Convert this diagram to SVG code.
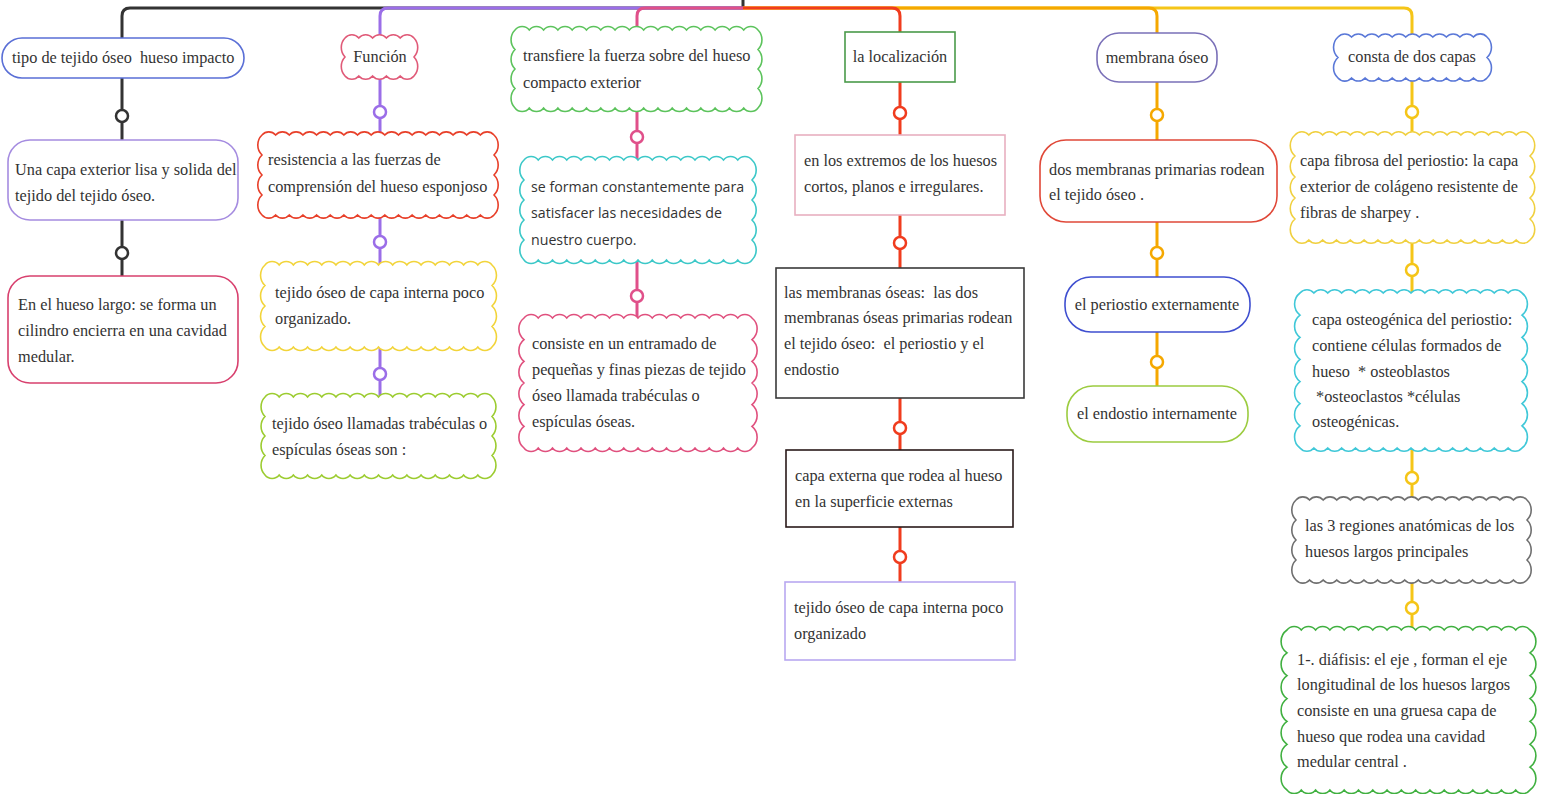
<svg xmlns="http://www.w3.org/2000/svg" width="1543" height="794" viewBox="0 0 1543 794">
<style>
text{font-family:"Liberation Serif","Times New Roman",serif;font-size:16.3px;fill:#333;white-space:pre}
.sans{font-family:"Open Sans","Liberation Sans",sans-serif;font-size:14.2px}
.mid{text-anchor:middle}
.box{fill:#fff;stroke-width:1.6}
.con{fill:none;stroke-width:3}
.ring{fill:#fff;stroke-width:2.5}
</style>
<rect width="1543" height="794" fill="#fff"/>
<g id="connectors">
<path class="con" stroke="#333" d="M743 0V8"/>
<path class="con" stroke="#333" d="M743 8H130Q122 8 122 16V38"/>
<path class="con" stroke="#9b6ee8" d="M743 8H388Q380 8 380 16V38"/>
<path class="con" stroke="#e0508a" d="M743 8H645Q637 8 637 16V30"/>
<path class="con" stroke="#f5c518" d="M743 8H1404Q1412 8 1412 16V37"/>
<path class="con" stroke="#f5a800" d="M743 8H1149Q1157 8 1157 16V33"/>
<path class="con" stroke="#f03c1e" d="M743 8H892Q900 8 900 16V32"/>
<g stroke="#333"><path class="con" d="M122 78V140M122 220V276"/><circle class="ring" cx="122" cy="116" r="6"/><circle class="ring" cx="122" cy="253" r="6"/></g>
<g stroke="#9b6ee8"><path class="con" d="M380 76V135M380 215V265M380 347V397"/><circle class="ring" cx="380" cy="112" r="6"/><circle class="ring" cx="380" cy="242" r="6"/><circle class="ring" cx="380" cy="374" r="6"/></g>
<g stroke="#e0508a"><path class="con" d="M637 108V160M637 260V318"/><circle class="ring" cx="637" cy="137" r="6"/><circle class="ring" cx="637" cy="296" r="6"/></g>
<g stroke="#f03c1e"><path class="con" d="M900 82V135M900 215V268M900 398V450M900 527V582"/><circle class="ring" cx="900" cy="113" r="6"/><circle class="ring" cx="900" cy="243" r="6"/><circle class="ring" cx="900" cy="428" r="6"/><circle class="ring" cx="900" cy="557" r="6"/></g>
<g stroke="#f5a800"><path class="con" d="M1157 82V140M1157 222V277M1157 332V386"/><circle class="ring" cx="1157" cy="115" r="6"/><circle class="ring" cx="1157" cy="253" r="6"/><circle class="ring" cx="1157" cy="362" r="6"/></g>
<g stroke="#f5c518"><path class="con" d="M1412 78V135M1412 240V293M1412 448V500M1412 580V630"/><circle class="ring" cx="1412" cy="112" r="6"/><circle class="ring" cx="1412" cy="270" r="6"/><circle class="ring" cx="1412" cy="478" r="6"/><circle class="ring" cx="1412" cy="608" r="6"/></g>
</g>

<g id="n1"><rect class="box" stroke="#5a6fd6" x="2" y="38" width="242" height="40" rx="20"/><text x="12" y="63">tipo de tejido óseo  hueso impacto</text></g>
<g id="n2"><rect class="box" stroke="#a58ce0" x="8" y="140" width="230" height="80" rx="22"/><text x="15" y="175">Una capa exterior lisa y solida del</text><text x="15" y="201">tejido del tejido óseo.</text></g>
<g id="n3"><rect class="box" stroke="#d8406e" x="8" y="276" width="230" height="107" rx="22"/><text x="18" y="310">En el hueso largo: se forma un</text><text x="18" y="336">cilindro encierra en una cavidad</text><text x="18" y="362">medular.</text></g>

<g id="n4"><path class="box" stroke="#e05a78" d="M345 38a9 9 0 0 1 13.8 0a9 9 0 0 1 13.8 0a9 9 0 0 1 13.8 0a9 9 0 0 1 13.8 0a9 9 0 0 1 13.8 0a14 14 0 0 1 0 19a14 14 0 0 1 0 19a9 9 0 0 1 -13.8 0a9 9 0 0 1 -13.8 0a9 9 0 0 1 -13.8 0a9 9 0 0 1 -13.8 0a9 9 0 0 1 -13.8 0a14 14 0 0 1 0 -19a14 14 0 0 1 0 -19z"/><text class="mid" x="380" y="62">Función</text></g>
<g id="n5"><path class="box" stroke="#e8402a" d="M262 135a9 9 0 0 1 13.647 0a9 9 0 0 1 13.647 0a9 9 0 0 1 13.647 0a9 9 0 0 1 13.647 0a9 9 0 0 1 13.647 0a9 9 0 0 1 13.647 0a9 9 0 0 1 13.647 0a9 9 0 0 1 13.647 0a9 9 0 0 1 13.647 0a9 9 0 0 1 13.647 0a9 9 0 0 1 13.647 0a9 9 0 0 1 13.647 0a9 9 0 0 1 13.647 0a9 9 0 0 1 13.647 0a9 9 0 0 1 13.647 0a9 9 0 0 1 13.647 0a9 9 0 0 1 13.647 0a14 14 0 0 1 0 20a14 14 0 0 1 0 20a14 14 0 0 1 0 20a14 14 0 0 1 0 20a9 9 0 0 1 -13.647 0a9 9 0 0 1 -13.647 0a9 9 0 0 1 -13.647 0a9 9 0 0 1 -13.647 0a9 9 0 0 1 -13.647 0a9 9 0 0 1 -13.647 0a9 9 0 0 1 -13.647 0a9 9 0 0 1 -13.647 0a9 9 0 0 1 -13.647 0a9 9 0 0 1 -13.647 0a9 9 0 0 1 -13.647 0a9 9 0 0 1 -13.647 0a9 9 0 0 1 -13.647 0a9 9 0 0 1 -13.647 0a9 9 0 0 1 -13.647 0a9 9 0 0 1 -13.647 0a9 9 0 0 1 -13.647 0a14 14 0 0 1 0 -20a14 14 0 0 1 0 -20a14 14 0 0 1 0 -20a14 14 0 0 1 0 -20z"/><text x="268" y="165">resistencia a las fuerzas de</text><text x="268" y="192">comprensión del hueso esponjoso</text></g>
<g id="n6"><path class="box" stroke="#f2d43a" d="M265 265a9 9 0 0 1 14.1875 0a9 9 0 0 1 14.1875 0a9 9 0 0 1 14.1875 0a9 9 0 0 1 14.1875 0a9 9 0 0 1 14.1875 0a9 9 0 0 1 14.1875 0a9 9 0 0 1 14.1875 0a9 9 0 0 1 14.1875 0a9 9 0 0 1 14.1875 0a9 9 0 0 1 14.1875 0a9 9 0 0 1 14.1875 0a9 9 0 0 1 14.1875 0a9 9 0 0 1 14.1875 0a9 9 0 0 1 14.1875 0a9 9 0 0 1 14.1875 0a9 9 0 0 1 14.1875 0a14 14 0 0 1 0 20.5a14 14 0 0 1 0 20.5a14 14 0 0 1 0 20.5a14 14 0 0 1 0 20.5a9 9 0 0 1 -14.1875 0a9 9 0 0 1 -14.1875 0a9 9 0 0 1 -14.1875 0a9 9 0 0 1 -14.1875 0a9 9 0 0 1 -14.1875 0a9 9 0 0 1 -14.1875 0a9 9 0 0 1 -14.1875 0a9 9 0 0 1 -14.1875 0a9 9 0 0 1 -14.1875 0a9 9 0 0 1 -14.1875 0a9 9 0 0 1 -14.1875 0a9 9 0 0 1 -14.1875 0a9 9 0 0 1 -14.1875 0a9 9 0 0 1 -14.1875 0a9 9 0 0 1 -14.1875 0a9 9 0 0 1 -14.1875 0a14 14 0 0 1 0 -20.5a14 14 0 0 1 0 -20.5a14 14 0 0 1 0 -20.5a14 14 0 0 1 0 -20.5z"/><text x="275" y="298">tejido óseo de capa interna poco</text><text x="275" y="324">organizado.</text></g>
<g id="n7"><path class="box" stroke="#9ccc30" d="M265 397a9 9 0 0 1 14.1875 0a9 9 0 0 1 14.1875 0a9 9 0 0 1 14.1875 0a9 9 0 0 1 14.1875 0a9 9 0 0 1 14.1875 0a9 9 0 0 1 14.1875 0a9 9 0 0 1 14.1875 0a9 9 0 0 1 14.1875 0a9 9 0 0 1 14.1875 0a9 9 0 0 1 14.1875 0a9 9 0 0 1 14.1875 0a9 9 0 0 1 14.1875 0a9 9 0 0 1 14.1875 0a9 9 0 0 1 14.1875 0a9 9 0 0 1 14.1875 0a9 9 0 0 1 14.1875 0a14 14 0 0 1 0 19.5a14 14 0 0 1 0 19.5a14 14 0 0 1 0 19.5a14 14 0 0 1 0 19.5a9 9 0 0 1 -14.1875 0a9 9 0 0 1 -14.1875 0a9 9 0 0 1 -14.1875 0a9 9 0 0 1 -14.1875 0a9 9 0 0 1 -14.1875 0a9 9 0 0 1 -14.1875 0a9 9 0 0 1 -14.1875 0a9 9 0 0 1 -14.1875 0a9 9 0 0 1 -14.1875 0a9 9 0 0 1 -14.1875 0a9 9 0 0 1 -14.1875 0a9 9 0 0 1 -14.1875 0a9 9 0 0 1 -14.1875 0a9 9 0 0 1 -14.1875 0a9 9 0 0 1 -14.1875 0a9 9 0 0 1 -14.1875 0a14 14 0 0 1 0 -19.5a14 14 0 0 1 0 -19.5a14 14 0 0 1 0 -19.5a14 14 0 0 1 0 -19.5z"/><text x="272" y="429">tejido óseo llamadas trabéculas o</text><text x="272" y="455">espículas óseas son :</text></g>

<g id="n8"><path class="box" stroke="#5cc35c" d="M515 30a9 9 0 0 1 14.294 0a9 9 0 0 1 14.294 0a9 9 0 0 1 14.294 0a9 9 0 0 1 14.294 0a9 9 0 0 1 14.294 0a9 9 0 0 1 14.294 0a9 9 0 0 1 14.294 0a9 9 0 0 1 14.294 0a9 9 0 0 1 14.294 0a9 9 0 0 1 14.294 0a9 9 0 0 1 14.294 0a9 9 0 0 1 14.294 0a9 9 0 0 1 14.294 0a9 9 0 0 1 14.294 0a9 9 0 0 1 14.294 0a9 9 0 0 1 14.294 0a9 9 0 0 1 14.294 0a14 14 0 0 1 0 19.5a14 14 0 0 1 0 19.5a14 14 0 0 1 0 19.5a14 14 0 0 1 0 19.5a9 9 0 0 1 -14.294 0a9 9 0 0 1 -14.294 0a9 9 0 0 1 -14.294 0a9 9 0 0 1 -14.294 0a9 9 0 0 1 -14.294 0a9 9 0 0 1 -14.294 0a9 9 0 0 1 -14.294 0a9 9 0 0 1 -14.294 0a9 9 0 0 1 -14.294 0a9 9 0 0 1 -14.294 0a9 9 0 0 1 -14.294 0a9 9 0 0 1 -14.294 0a9 9 0 0 1 -14.294 0a9 9 0 0 1 -14.294 0a9 9 0 0 1 -14.294 0a9 9 0 0 1 -14.294 0a9 9 0 0 1 -14.294 0a14 14 0 0 1 0 -19.5a14 14 0 0 1 0 -19.5a14 14 0 0 1 0 -19.5a14 14 0 0 1 0 -19.5z"/><text x="523" y="61">transfiere la fuerza sobre del hueso</text><text x="523" y="88">compacto exterior</text></g>
<g id="n9"><path class="box" stroke="#3cc8c8" d="M524 160a9 9 0 0 1 14.25 0a9 9 0 0 1 14.25 0a9 9 0 0 1 14.25 0a9 9 0 0 1 14.25 0a9 9 0 0 1 14.25 0a9 9 0 0 1 14.25 0a9 9 0 0 1 14.25 0a9 9 0 0 1 14.25 0a9 9 0 0 1 14.25 0a9 9 0 0 1 14.25 0a9 9 0 0 1 14.25 0a9 9 0 0 1 14.25 0a9 9 0 0 1 14.25 0a9 9 0 0 1 14.25 0a9 9 0 0 1 14.25 0a9 9 0 0 1 14.25 0a14 14 0 0 1 0 20a14 14 0 0 1 0 20a14 14 0 0 1 0 20a14 14 0 0 1 0 20a14 14 0 0 1 0 20a9 9 0 0 1 -14.25 0a9 9 0 0 1 -14.25 0a9 9 0 0 1 -14.25 0a9 9 0 0 1 -14.25 0a9 9 0 0 1 -14.25 0a9 9 0 0 1 -14.25 0a9 9 0 0 1 -14.25 0a9 9 0 0 1 -14.25 0a9 9 0 0 1 -14.25 0a9 9 0 0 1 -14.25 0a9 9 0 0 1 -14.25 0a9 9 0 0 1 -14.25 0a9 9 0 0 1 -14.25 0a9 9 0 0 1 -14.25 0a9 9 0 0 1 -14.25 0a9 9 0 0 1 -14.25 0a14 14 0 0 1 0 -20a14 14 0 0 1 0 -20a14 14 0 0 1 0 -20a14 14 0 0 1 0 -20a14 14 0 0 1 0 -20z"/><text class="sans" x="531" y="192">se forman constantemente para</text><text class="sans" x="531" y="218">satisfacer las necesidades de</text><text class="sans" x="531" y="245">nuestro cuerpo.</text></g>
<g id="n10"><path class="box" stroke="#e0507e" d="M524 318a9 9 0 0 1 14.25 0a9 9 0 0 1 14.25 0a9 9 0 0 1 14.25 0a9 9 0 0 1 14.25 0a9 9 0 0 1 14.25 0a9 9 0 0 1 14.25 0a9 9 0 0 1 14.25 0a9 9 0 0 1 14.25 0a9 9 0 0 1 14.25 0a9 9 0 0 1 14.25 0a9 9 0 0 1 14.25 0a9 9 0 0 1 14.25 0a9 9 0 0 1 14.25 0a9 9 0 0 1 14.25 0a9 9 0 0 1 14.25 0a9 9 0 0 1 14.25 0a14 14 0 0 1 0 21.667a14 14 0 0 1 0 21.667a14 14 0 0 1 0 21.667a14 14 0 0 1 0 21.667a14 14 0 0 1 0 21.667a14 14 0 0 1 0 21.665a9 9 0 0 1 -14.25 0a9 9 0 0 1 -14.25 0a9 9 0 0 1 -14.25 0a9 9 0 0 1 -14.25 0a9 9 0 0 1 -14.25 0a9 9 0 0 1 -14.25 0a9 9 0 0 1 -14.25 0a9 9 0 0 1 -14.25 0a9 9 0 0 1 -14.25 0a9 9 0 0 1 -14.25 0a9 9 0 0 1 -14.25 0a9 9 0 0 1 -14.25 0a9 9 0 0 1 -14.25 0a9 9 0 0 1 -14.25 0a9 9 0 0 1 -14.25 0a9 9 0 0 1 -14.25 0a14 14 0 0 1 0 -21.667a14 14 0 0 1 0 -21.667a14 14 0 0 1 0 -21.667a14 14 0 0 1 0 -21.667a14 14 0 0 1 0 -21.667a14 14 0 0 1 0 -21.665z"/><text x="532" y="349">consiste en un entramado de</text><text x="532" y="375">pequeñas y finas piezas de tejido</text><text x="532" y="401">óseo llamada trabéculas o</text><text x="532" y="427">espículas óseas.</text></g>

<g id="n11"><rect class="box" stroke="#4a9a4a" x="845" y="32" width="110" height="50"/><text class="mid" x="900" y="62">la localización</text></g>
<g id="n12"><rect class="box" stroke="#e8b0c0" x="795" y="135" width="210" height="80"/><text x="804" y="166">en los extremos de los huesos</text><text x="804" y="192">cortos, planos e irregulares.</text></g>
<g id="n13"><rect class="box" stroke="#3a3a3a" stroke-width="2" x="776" y="268" width="248" height="130"/><text x="784" y="298">las membranas óseas:  las dos</text><text x="784" y="323">membranas óseas primarias rodean</text><text x="784" y="349">el tejido óseo:  el periostio y el</text><text x="784" y="375">endostio</text></g>
<g id="n14"><rect class="box" stroke="#2a1a1a" stroke-width="2" x="786" y="450" width="227" height="77"/><text x="795" y="481">capa externa que rodea al hueso</text><text x="795" y="507">en la superficie externas</text></g>
<g id="n15"><rect class="box" stroke="#b8a8f0" x="785" y="582" width="230" height="78"/><text x="794" y="613">tejido óseo de capa interna poco</text><text x="794" y="639">organizado</text></g>

<g id="n16"><rect class="box" stroke="#7a70b8" x="1097" y="33" width="120" height="49" rx="22"/><text class="mid" x="1157" y="63">membrana óseo</text></g>
<g id="n17"><rect class="box" stroke="#e04838" x="1040" y="140" width="237" height="82" rx="26"/><text x="1049" y="175">dos membranas primarias rodean</text><text x="1049" y="200">el tejido óseo .</text></g>
<g id="n18"><rect class="box" stroke="#3f4fd0" x="1065" y="277" width="185" height="55" rx="26"/><text class="mid" x="1157" y="310">el periostio externamente</text></g>
<g id="n19"><rect class="box" stroke="#9ccc40" x="1067" y="386" width="181" height="56" rx="26"/><text class="mid" x="1157" y="419">el endostio internamente</text></g>

<g id="n20"><path class="box" stroke="#5a78d8" d="M1338 37a9 9 0 0 1 13.545 0a9 9 0 0 1 13.545 0a9 9 0 0 1 13.545 0a9 9 0 0 1 13.545 0a9 9 0 0 1 13.545 0a9 9 0 0 1 13.545 0a9 9 0 0 1 13.545 0a9 9 0 0 1 13.545 0a9 9 0 0 1 13.545 0a9 9 0 0 1 13.545 0a9 9 0 0 1 13.55 0a14 14 0 0 1 0 20.5a14 14 0 0 1 0 20.5a9 9 0 0 1 -13.545 0a9 9 0 0 1 -13.545 0a9 9 0 0 1 -13.545 0a9 9 0 0 1 -13.545 0a9 9 0 0 1 -13.545 0a9 9 0 0 1 -13.545 0a9 9 0 0 1 -13.545 0a9 9 0 0 1 -13.545 0a9 9 0 0 1 -13.545 0a9 9 0 0 1 -13.545 0a9 9 0 0 1 -13.55 0a14 14 0 0 1 0 -20.5a14 14 0 0 1 0 -20.5z"/><text class="mid" x="1412" y="62">consta de dos capas</text></g>
<g id="n21"><path class="box" stroke="#f0d040" d="M1295 135a9 9 0 0 1 13.824 0a9 9 0 0 1 13.824 0a9 9 0 0 1 13.824 0a9 9 0 0 1 13.824 0a9 9 0 0 1 13.824 0a9 9 0 0 1 13.824 0a9 9 0 0 1 13.824 0a9 9 0 0 1 13.824 0a9 9 0 0 1 13.824 0a9 9 0 0 1 13.824 0a9 9 0 0 1 13.824 0a9 9 0 0 1 13.824 0a9 9 0 0 1 13.824 0a9 9 0 0 1 13.824 0a9 9 0 0 1 13.824 0a9 9 0 0 1 13.824 0a9 9 0 0 1 13.816 0a14 14 0 0 1 0 21a14 14 0 0 1 0 21a14 14 0 0 1 0 21a14 14 0 0 1 0 21a14 14 0 0 1 0 21a9 9 0 0 1 -13.824 0a9 9 0 0 1 -13.824 0a9 9 0 0 1 -13.824 0a9 9 0 0 1 -13.824 0a9 9 0 0 1 -13.824 0a9 9 0 0 1 -13.824 0a9 9 0 0 1 -13.824 0a9 9 0 0 1 -13.824 0a9 9 0 0 1 -13.824 0a9 9 0 0 1 -13.824 0a9 9 0 0 1 -13.824 0a9 9 0 0 1 -13.824 0a9 9 0 0 1 -13.824 0a9 9 0 0 1 -13.824 0a9 9 0 0 1 -13.824 0a9 9 0 0 1 -13.824 0a9 9 0 0 1 -13.816 0a14 14 0 0 1 0 -21a14 14 0 0 1 0 -21a14 14 0 0 1 0 -21a14 14 0 0 1 0 -21a14 14 0 0 1 0 -21z"/><text x="1300" y="166">capa fibrosa del periostio: la capa</text><text x="1300" y="192">exterior de colágeno resistente de</text><text x="1300" y="218">fibras de sharpey .</text></g>
<g id="n22"><path class="box" stroke="#40c8d8" d="M1300 293a9 9 0 0 1 13.875 0a9 9 0 0 1 13.875 0a9 9 0 0 1 13.875 0a9 9 0 0 1 13.875 0a9 9 0 0 1 13.875 0a9 9 0 0 1 13.875 0a9 9 0 0 1 13.875 0a9 9 0 0 1 13.875 0a9 9 0 0 1 13.875 0a9 9 0 0 1 13.875 0a9 9 0 0 1 13.875 0a9 9 0 0 1 13.875 0a9 9 0 0 1 13.875 0a9 9 0 0 1 13.875 0a9 9 0 0 1 13.875 0a9 9 0 0 1 13.875 0a14 14 0 0 1 0 22.143a14 14 0 0 1 0 22.143a14 14 0 0 1 0 22.143a14 14 0 0 1 0 22.143a14 14 0 0 1 0 22.143a14 14 0 0 1 0 22.143a14 14 0 0 1 0 22.142a9 9 0 0 1 -13.875 0a9 9 0 0 1 -13.875 0a9 9 0 0 1 -13.875 0a9 9 0 0 1 -13.875 0a9 9 0 0 1 -13.875 0a9 9 0 0 1 -13.875 0a9 9 0 0 1 -13.875 0a9 9 0 0 1 -13.875 0a9 9 0 0 1 -13.875 0a9 9 0 0 1 -13.875 0a9 9 0 0 1 -13.875 0a9 9 0 0 1 -13.875 0a9 9 0 0 1 -13.875 0a9 9 0 0 1 -13.875 0a9 9 0 0 1 -13.875 0a9 9 0 0 1 -13.875 0a14 14 0 0 1 0 -22.143a14 14 0 0 1 0 -22.143a14 14 0 0 1 0 -22.143a14 14 0 0 1 0 -22.143a14 14 0 0 1 0 -22.143a14 14 0 0 1 0 -22.143a14 14 0 0 1 0 -22.142z"/><text x="1312" y="325">capa osteogénica del periostio:</text><text x="1312" y="351">contiene células formados de</text><text x="1312" y="377">hueso  * osteoblastos</text><text x="1312" y="402"> *osteoclastos *células</text><text x="1312" y="427">osteogénicas.</text></g>
<g id="n23"><path class="box" stroke="#707070" d="M1296 500a9 9 0 0 1 13.588 0a9 9 0 0 1 13.588 0a9 9 0 0 1 13.588 0a9 9 0 0 1 13.588 0a9 9 0 0 1 13.588 0a9 9 0 0 1 13.588 0a9 9 0 0 1 13.588 0a9 9 0 0 1 13.588 0a9 9 0 0 1 13.588 0a9 9 0 0 1 13.588 0a9 9 0 0 1 13.588 0a9 9 0 0 1 13.588 0a9 9 0 0 1 13.588 0a9 9 0 0 1 13.588 0a9 9 0 0 1 13.588 0a9 9 0 0 1 13.588 0a9 9 0 0 1 13.592 0a14 14 0 0 1 0 20a14 14 0 0 1 0 20a14 14 0 0 1 0 20a14 14 0 0 1 0 20a9 9 0 0 1 -13.588 0a9 9 0 0 1 -13.588 0a9 9 0 0 1 -13.588 0a9 9 0 0 1 -13.588 0a9 9 0 0 1 -13.588 0a9 9 0 0 1 -13.588 0a9 9 0 0 1 -13.588 0a9 9 0 0 1 -13.588 0a9 9 0 0 1 -13.588 0a9 9 0 0 1 -13.588 0a9 9 0 0 1 -13.588 0a9 9 0 0 1 -13.588 0a9 9 0 0 1 -13.588 0a9 9 0 0 1 -13.588 0a9 9 0 0 1 -13.588 0a9 9 0 0 1 -13.588 0a9 9 0 0 1 -13.592 0a14 14 0 0 1 0 -20a14 14 0 0 1 0 -20a14 14 0 0 1 0 -20a14 14 0 0 1 0 -20z"/><text x="1305" y="531">las 3 regiones anatómicas de los</text><text x="1305" y="557">huesos largos principales</text></g>
<g id="n24"><path class="box" stroke="#40b040" d="M1287 630a9 9 0 0 1 14.294 0a9 9 0 0 1 14.294 0a9 9 0 0 1 14.294 0a9 9 0 0 1 14.294 0a9 9 0 0 1 14.294 0a9 9 0 0 1 14.294 0a9 9 0 0 1 14.294 0a9 9 0 0 1 14.294 0a9 9 0 0 1 14.294 0a9 9 0 0 1 14.294 0a9 9 0 0 1 14.294 0a9 9 0 0 1 14.294 0a9 9 0 0 1 14.294 0a9 9 0 0 1 14.294 0a9 9 0 0 1 14.294 0a9 9 0 0 1 14.294 0a9 9 0 0 1 14.296 0a14 14 0 0 1 0 22.857a14 14 0 0 1 0 22.857a14 14 0 0 1 0 22.857a14 14 0 0 1 0 22.857a14 14 0 0 1 0 22.857a14 14 0 0 1 0 22.857a14 14 0 0 1 0 22.858a9 9 0 0 1 -14.294 0a9 9 0 0 1 -14.294 0a9 9 0 0 1 -14.294 0a9 9 0 0 1 -14.294 0a9 9 0 0 1 -14.294 0a9 9 0 0 1 -14.294 0a9 9 0 0 1 -14.294 0a9 9 0 0 1 -14.294 0a9 9 0 0 1 -14.294 0a9 9 0 0 1 -14.294 0a9 9 0 0 1 -14.294 0a9 9 0 0 1 -14.294 0a9 9 0 0 1 -14.294 0a9 9 0 0 1 -14.294 0a9 9 0 0 1 -14.294 0a9 9 0 0 1 -14.294 0a9 9 0 0 1 -14.296 0a14 14 0 0 1 0 -22.857a14 14 0 0 1 0 -22.857a14 14 0 0 1 0 -22.857a14 14 0 0 1 0 -22.857a14 14 0 0 1 0 -22.857a14 14 0 0 1 0 -22.857a14 14 0 0 1 0 -22.858z"/><text x="1297" y="665">1-. diáfisis: el eje , forman el eje</text><text x="1297" y="690">longitudinal de los huesos largos</text><text x="1297" y="716">consiste en una gruesa capa de</text><text x="1297" y="742">hueso que rodea una cavidad</text><text x="1297" y="767">medular central .</text></g>
</svg>
